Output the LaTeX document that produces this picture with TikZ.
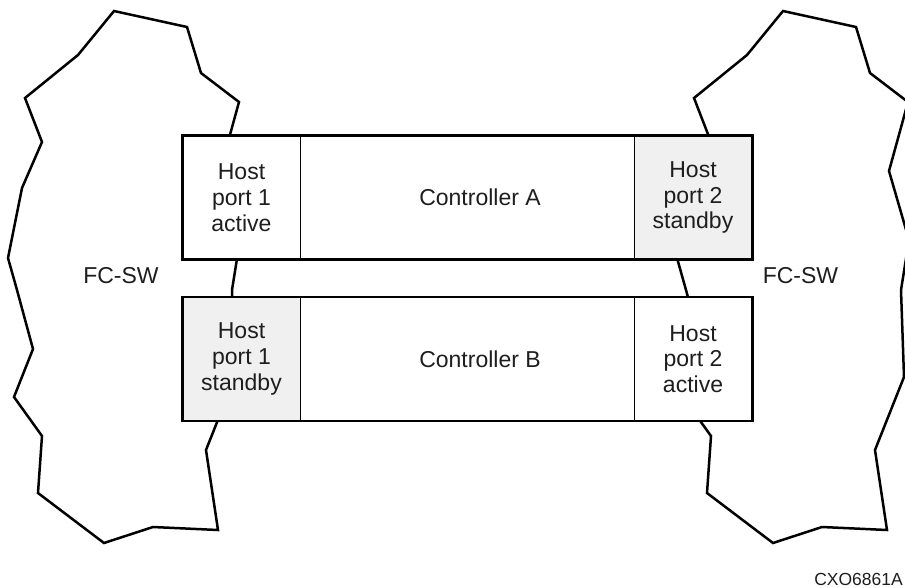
\documentclass[tikz,border=0pt]{standalone}
\usepackage{fontspec}
\setmainfont{Liberation Sans}
\usetikzlibrary{fit}
\definecolor{txt}{RGB}{30,30,30}
\definecolor{standbygray}{RGB}{240,240,240}
\tikzset{
  cloud/.style={draw=black, line width=2.5pt, line join=miter},
  cellbox/.style={draw=black, line width=0.9pt, inner sep=0pt, minimum height=123pt, text=txt, align=center, font=\fontsize{23}{25.7}\selectfont},
  standby/.style={fill=standbygray},
  active/.style={fill=white},
  outerbox/.style={draw=black, line width=2.8pt, inner sep=0pt},
  lbl/.style={text=txt, inner sep=0pt, font=\fontsize{23}{25.7}\selectfont},
  codelbl/.style={text=txt, inner sep=0pt, font=\fontsize{17.5}{20}\selectfont}
}
\newcommand{\cloudshape}{(114,11) -- (187,27) -- (201,73) -- (239,102) -- (220,171) -- (240,240) -- (232,290) -- (235,377) -- (206,450) -- (218,530) -- (153,527) -- (104,543) -- (38,493) -- (42,436) -- (14,397) -- (33,349) -- (17,290) -- (8,258) -- (22,188) -- (42,142) -- (25,98) -- (78,55) -- cycle}
\begin{document}
\begin{tikzpicture}[x=1pt, y=-1pt]
\clip (0,0) rectangle (905,587);
\fill[white] (0,0) rectangle (905,587);
% switch clouds
\draw[cloud] \cloudshape;
\draw[cloud, xshift=669pt] \cloudshape;
% Controller A
\node[cellbox, active, minimum width=117pt] (a1) at (241.5,197.5) {Host\\port 1\\active};
\node[cellbox, active, minimum width=334pt] (a2) at (467,197.5) {};
\node[cellbox, standby, minimum width=118pt] (a3) at (693,197.5) {Host\\port 2\\standby};
\node[outerbox, fit=(a1)(a2)(a3)] (ctrlA) {};
\node[lbl] (ta) at (480,197.5) {Controller A};
% Controller B
\node[cellbox, standby, minimum width=117pt] (b1) at (241.5,359) {Host\\port 1\\standby};
\node[cellbox, active, minimum width=334pt] (b2) at (467,359) {};
\node[cellbox, active, minimum width=118pt] (b3) at (693,359) {Host\\port 2\\active};
\node[outerbox, fit=(b1)(b2)(b3)] (ctrlB) {};
\node[lbl] (tb) at (480,359) {Controller B};
% labels
\node[lbl] (fcl) at (121,276) {FC-SW};
\node[lbl] (fcr) at (800.5,276) {FC-SW};
\node[codelbl, anchor=base east] (code) at (903,585) {CXO6861A};
\end{tikzpicture}
\end{document}
